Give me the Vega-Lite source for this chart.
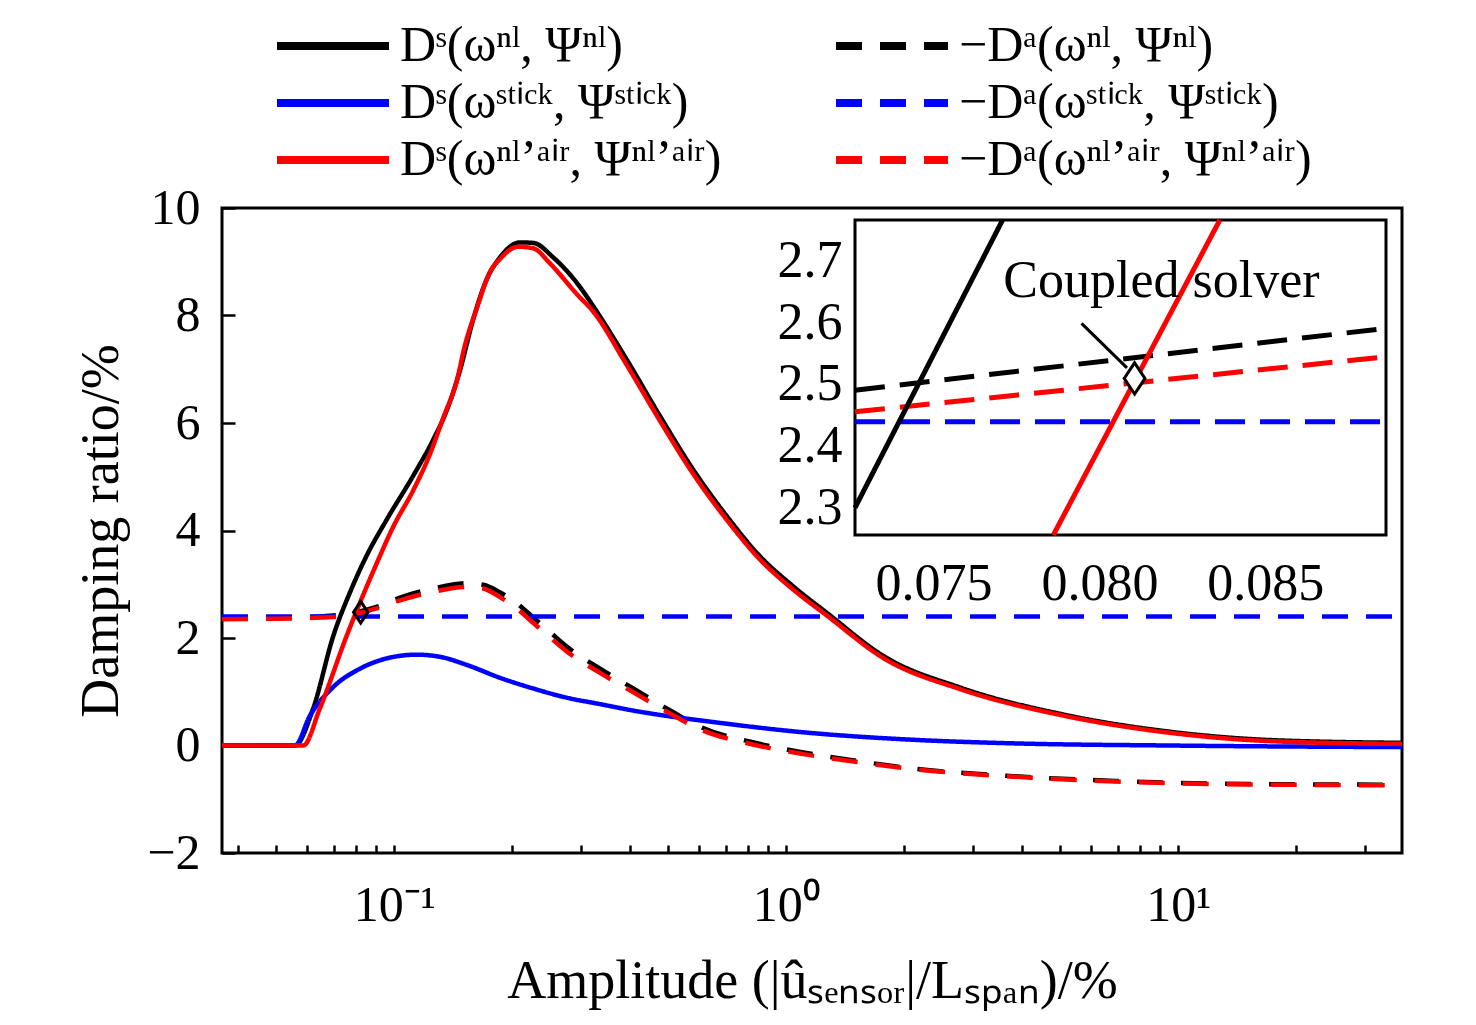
{
  "$schema": "https://vega.github.io/schema/vega-lite/v6.json",
  "width": 1180,
  "height": 645,
  "autosize": {"type": "none"},
  "padding": {"left": 222, "top": 208, "right": 74, "bottom": 172},
  "background": "white",
  "config": {
    "view": {"stroke": "black", "strokeWidth": 3},
    "font": "Liberation Serif",
    "axis": {
      "labelFont": "Liberation Serif",
      "titleFont": "Liberation Serif",
      "labelColor": "black",
      "titleColor": "black",
      "tickColor": "black",
      "tickWidth": 2.5,
      "domain": false,
      "grid": false,
      "labelFlush": false,
      "labelOverlap": false,
      "titleFontWeight": "normal",
      "zindex": 1
    }
  },
  "datasets": {
    "main": [
      {"s": "DS_nl", "x": 0.03635, "y": 0}, {"s": "DS_nl", "x": 0.0558, "y": 0}, {"s": "DS_nl", "x": 0.0621, "y": 0.69},
      {"s": "DS_nl", "x": 0.0699, "y": 2.04}, {"s": "DS_nl", "x": 0.0771, "y": 2.85}, {"s": "DS_nl", "x": 0.085, "y": 3.53},
      {"s": "DS_nl", "x": 0.0956, "y": 4.2}, {"s": "DS_nl", "x": 0.1118, "y": 5.02}, {"s": "DS_nl", "x": 0.1257, "y": 5.69},
      {"s": "DS_nl", "x": 0.136, "y": 6.23}, {"s": "DS_nl", "x": 0.1471, "y": 6.98}, {"s": "DS_nl", "x": 0.159, "y": 7.93},
      {"s": "DS_nl", "x": 0.1721, "y": 8.67}, {"s": "DS_nl", "x": 0.186, "y": 9.08}, {"s": "DS_nl", "x": 0.2093, "y": 9.36},
      {"s": "DS_nl", "x": 0.2263, "y": 9.35}, {"s": "DS_nl", "x": 0.2545, "y": 9.08}, {"s": "DS_nl", "x": 0.2977, "y": 8.53},
      {"s": "DS_nl", "x": 0.322, "y": 8.17}, {"s": "DS_nl", "x": 0.3917, "y": 7.18}, {"s": "DS_nl", "x": 0.4762, "y": 6.13},
      {"s": "DS_nl", "x": 0.5792, "y": 5.13}, {"s": "DS_nl", "x": 0.7047, "y": 4.27}, {"s": "DS_nl", "x": 0.857, "y": 3.52},
      {"s": "DS_nl", "x": 1.042, "y": 2.96}, {"s": "DS_nl", "x": 1.268, "y": 2.47}, {"s": "DS_nl", "x": 1.775, "y": 1.66},
      {"s": "DS_nl", "x": 2.8, "y": 1.07}, {"s": "DS_nl", "x": 5.14, "y": 0.57}, {"s": "DS_nl", "x": 9.42, "y": 0.26},
      {"s": "DS_nl", "x": 17.3, "y": 0.1}, {"s": "DS_nl", "x": 37.22, "y": 0.05},

      {"s": "Da_nl", "x": 0.03635, "y": 2.36}, {"s": "Da_nl", "x": 0.05, "y": 2.37}, {"s": "Da_nl", "x": 0.065, "y": 2.4},
      {"s": "Da_nl", "x": 0.0741, "y": 2.44}, {"s": "Da_nl", "x": 0.0821, "y": 2.5}, {"s": "Da_nl", "x": 0.092, "y": 2.6},
      {"s": "Da_nl", "x": 0.1034, "y": 2.75}, {"s": "Da_nl", "x": 0.1257, "y": 2.92}, {"s": "Da_nl", "x": 0.153, "y": 3.02},
      {"s": "Da_nl", "x": 0.1687, "y": 2.99}, {"s": "Da_nl", "x": 0.186, "y": 2.85}, {"s": "Da_nl", "x": 0.205, "y": 2.65},
      {"s": "Da_nl", "x": 0.2263, "y": 2.38}, {"s": "Da_nl", "x": 0.2496, "y": 2.11}, {"s": "Da_nl", "x": 0.2754, "y": 1.84},
      {"s": "Da_nl", "x": 0.3349, "y": 1.43}, {"s": "Da_nl", "x": 0.4072, "y": 1.06}, {"s": "Da_nl", "x": 0.4954, "y": 0.69},
      {"s": "Da_nl", "x": 0.6024, "y": 0.35}, {"s": "Da_nl", "x": 0.832, "y": 0.05}, {"s": "Da_nl", "x": 1.127, "y": -0.14},
      {"s": "Da_nl", "x": 1.525, "y": -0.29}, {"s": "Da_nl", "x": 2.06, "y": -0.42}, {"s": "Da_nl", "x": 3.79, "y": -0.57},
      {"s": "Da_nl", "x": 6.95, "y": -0.66}, {"s": "Da_nl", "x": 12.7, "y": -0.71}, {"s": "Da_nl", "x": 37.22, "y": -0.73},

      {"s": "DS_stick", "x": 0.03635, "y": 0}, {"s": "DS_stick", "x": 0.0558, "y": 0}, {"s": "DS_stick", "x": 0.0609, "y": 0.55},
      {"s": "DS_stick", "x": 0.0699, "y": 1.09}, {"s": "DS_stick", "x": 0.0818, "y": 1.43}, {"s": "DS_stick", "x": 0.0956, "y": 1.62},
      {"s": "DS_stick", "x": 0.1141, "y": 1.69}, {"s": "DS_stick", "x": 0.1308, "y": 1.65}, {"s": "DS_stick", "x": 0.153, "y": 1.5},
      {"s": "DS_stick", "x": 0.186, "y": 1.26}, {"s": "DS_stick", "x": 0.2263, "y": 1.06}, {"s": "DS_stick", "x": 0.2754, "y": 0.89},
      {"s": "DS_stick", "x": 0.3349, "y": 0.77}, {"s": "DS_stick", "x": 0.4072, "y": 0.65}, {"s": "DS_stick", "x": 0.4954, "y": 0.55},
      {"s": "DS_stick", "x": 0.614, "y": 0.46}, {"s": "DS_stick", "x": 1.127, "y": 0.24}, {"s": "DS_stick", "x": 2.06, "y": 0.11},
      {"s": "DS_stick", "x": 3.79, "y": 0.04}, {"s": "DS_stick", "x": 9.42, "y": 0.0}, {"s": "DS_stick", "x": 37.22, "y": -0.03},

      {"s": "Da_stick", "x": 0.03635, "y": 2.4}, {"s": "Da_stick", "x": 37.22, "y": 2.4},

      {"s": "DS_air", "x": 0.03635, "y": 0}, {"s": "DS_air", "x": 0.0586, "y": 0}, {"s": "DS_air", "x": 0.0646, "y": 0.69},
      {"s": "DS_air", "x": 0.0756, "y": 2.04}, {"s": "DS_air", "x": 0.0902, "y": 3.39}, {"s": "DS_air", "x": 0.0994, "y": 4.07},
      {"s": "DS_air", "x": 0.1118, "y": 4.75}, {"s": "DS_air", "x": 0.1233, "y": 5.42}, {"s": "DS_air", "x": 0.1334, "y": 6.1},
      {"s": "DS_air", "x": 0.1443, "y": 6.78}, {"s": "DS_air", "x": 0.1515, "y": 7.45}, {"s": "DS_air", "x": 0.1623, "y": 8.13},
      {"s": "DS_air", "x": 0.1754, "y": 8.81}, {"s": "DS_air", "x": 0.186, "y": 9.05}, {"s": "DS_air", "x": 0.2072, "y": 9.28},
      {"s": "DS_air", "x": 0.2263, "y": 9.25}, {"s": "DS_air", "x": 0.2496, "y": 8.97}, {"s": "DS_air", "x": 0.292, "y": 8.4},
      {"s": "DS_air", "x": 0.322, "y": 8.07}, {"s": "DS_air", "x": 0.3917, "y": 7.08}, {"s": "DS_air", "x": 0.4762, "y": 6.04},
      {"s": "DS_air", "x": 0.5792, "y": 5.05}, {"s": "DS_air", "x": 0.7047, "y": 4.2}, {"s": "DS_air", "x": 0.857, "y": 3.46},
      {"s": "DS_air", "x": 1.042, "y": 2.9}, {"s": "DS_air", "x": 1.268, "y": 2.42}, {"s": "DS_air", "x": 1.775, "y": 1.62},
      {"s": "DS_air", "x": 2.8, "y": 1.04}, {"s": "DS_air", "x": 5.14, "y": 0.55}, {"s": "DS_air", "x": 9.42, "y": 0.24},
      {"s": "DS_air", "x": 17.3, "y": 0.08}, {"s": "DS_air", "x": 37.22, "y": 0.03},

      {"s": "Da_air", "x": 0.03635, "y": 2.35}, {"s": "Da_air", "x": 0.05, "y": 2.36}, {"s": "Da_air", "x": 0.065, "y": 2.38},
      {"s": "Da_air", "x": 0.0741, "y": 2.41}, {"s": "Da_air", "x": 0.0821, "y": 2.47}, {"s": "Da_air", "x": 0.092, "y": 2.57},
      {"s": "Da_air", "x": 0.1034, "y": 2.7}, {"s": "Da_air", "x": 0.1257, "y": 2.86}, {"s": "Da_air", "x": 0.153, "y": 2.95},
      {"s": "Da_air", "x": 0.1687, "y": 2.92}, {"s": "Da_air", "x": 0.186, "y": 2.76}, {"s": "Da_air", "x": 0.205, "y": 2.55},
      {"s": "Da_air", "x": 0.2263, "y": 2.28}, {"s": "Da_air", "x": 0.2496, "y": 2.01}, {"s": "Da_air", "x": 0.2754, "y": 1.75},
      {"s": "Da_air", "x": 0.3349, "y": 1.35}, {"s": "Da_air", "x": 0.4072, "y": 0.99}, {"s": "Da_air", "x": 0.4954, "y": 0.63},
      {"s": "Da_air", "x": 0.6024, "y": 0.3}, {"s": "Da_air", "x": 0.832, "y": 0.01}, {"s": "Da_air", "x": 1.127, "y": -0.17},
      {"s": "Da_air", "x": 1.525, "y": -0.31}, {"s": "Da_air", "x": 2.06, "y": -0.43}, {"s": "Da_air", "x": 3.79, "y": -0.58},
      {"s": "Da_air", "x": 6.95, "y": -0.67}, {"s": "Da_air", "x": 12.7, "y": -0.72}, {"s": "Da_air", "x": 37.22, "y": -0.74}
    ],
    "mainMarker": [{"x": 0.0821, "y": 2.48}],
    "inset": [
      {"s": "Da_nl", "x": 0.07263, "y": 2.49}, {"s": "Da_nl", "x": 0.08864, "y": 2.59},
      {"s": "Da_stick", "x": 0.07263, "y": 2.439}, {"s": "Da_stick", "x": 0.08864, "y": 2.439},
      {"s": "Da_air", "x": 0.07263, "y": 2.455}, {"s": "Da_air", "x": 0.08864, "y": 2.544},
      {"s": "DS_nl", "x": 0.07263, "y": 2.3}, {"s": "DS_nl", "x": 0.07708, "y": 2.765},
      {"s": "DS_air", "x": 0.07861, "y": 2.256}, {"s": "DS_air", "x": 0.08363, "y": 2.765}
    ],
    "arrow": [{"x": 0.07946, "y": 2.598, "x2": 0.08083, "y2": 2.526}],
    "note": [{"x": 0.08187, "y": 2.641, "text": "Coupled solver"}],
    "insetMarker": [{"x": 0.08106, "y": 2.509}]
  },
  "layer": [
    {
      "layer": [
        {
          "data": {"name": "main"},
          "mark": {"type": "line", "interpolate": "monotone", "strokeWidth": 4.5},
          "encoding": {
            "x": {
              "field": "x", "type": "quantitative",
              "scale": {"type": "log", "domain": [0.03635, 37.22], "nice": false},
              "axis": {
                "values": [0.04, 0.05, 0.06, 0.07, 0.08, 0.09, 0.1, 0.2, 0.3, 0.4, 0.5, 0.6, 0.7, 0.8, 0.9, 1, 2, 3, 4, 5, 6, 7, 8, 9, 10, 20, 30],
                "labelExpr": "datum.value == 0.1 ? '10⁻¹' : datum.value == 1 ? '10⁰' : datum.value == 10 ? '10¹' : ''",
                "tickSize": -8,
                "encode": {"ticks": {"update": {"y2": {"signal": "abs(log(datum.value) / LN10 - round(log(datum.value) / LN10)) < 0.001 ? -15 : -8"}}}},
                "labelFontSize": 50,
                "labelPadding": 35,
                "title": "Amplitude (|ûₛₑₙₛₒᵣ|/Lₛₚₐₙ)/%",
                "titleFontSize": 54,
                "titlePadding": 24
              }
            },
            "y": {
              "field": "y", "type": "quantitative",
              "scale": {"domain": [-2, 10], "nice": false, "zero": false},
              "axis": {
                "values": [-2, 0, 2, 4, 6, 8, 10],
                "format": "d",
                "tickSize": -13,
                "labelFontSize": 50,
                "labelPadding": 35,
                "title": "Damping ratio/%",
                "titleFontSize": 54,
                "titlePadding": 18
              }
            },
            "color": {
              "field": "s", "type": "nominal",
              "scale": {
                "domain": ["DS_nl", "DS_stick", "DS_air", "Da_nl", "Da_stick", "Da_air"],
                "range": ["#000000", "#0000ff", "#ff0000", "#000000", "#0000ff", "#ff0000"]
              },
              "legend": {
                "orient": "none", "legendX": 86, "legendY": -187, "columns": 2, "columnPadding": 98, "rowPadding": 7,
                "symbolType": "M-4,0H4", "symbolSize": 784, "symbolStrokeWidth": 8, "padding": 0, "title": null,
                "labelFont": "Liberation Serif", "labelFontSize": 50, "labelFontStyle": "normal", "labelOffset": 42, "labelLimit": 700, "labelColor": "black",
                "labelExpr": "datum.label == 'DS_nl' ? 'Dˢ(ωⁿˡ, Ψⁿˡ)' : datum.label == 'Da_nl' ? '−Dᵃ(ωⁿˡ, Ψⁿˡ)' : datum.label == 'DS_stick' ? 'Dˢ(ωˢᵗⁱᶜᵏ, Ψˢᵗⁱᶜᵏ)' : datum.label == 'Da_stick' ? '−Dᵃ(ωˢᵗⁱᶜᵏ, Ψˢᵗⁱᶜᵏ)' : datum.label == 'DS_air' ? 'Dˢ(ωⁿˡʼᵃⁱʳ, Ψⁿˡʼᵃⁱʳ)' : '−Dᵃ(ωⁿˡʼᵃⁱʳ, Ψⁿˡʼᵃⁱʳ)'"
              }
            },
            "strokeDash": {
              "field": "s", "type": "nominal",
              "scale": {
                "domain": ["DS_nl", "DS_stick", "DS_air", "Da_nl", "Da_stick", "Da_air"],
                "range": [[1, 0], [1, 0], [1, 0], [26, 18], [26, 18], [26, 18]]
              },
              "legend": {
                "orient": "none", "legendX": 86, "legendY": -187, "columns": 2, "columnPadding": 98, "rowPadding": 7,
                "symbolType": "M-4,0H4", "symbolSize": 784, "symbolStrokeWidth": 8, "padding": 0, "title": null,
                "labelFont": "Liberation Serif", "labelFontSize": 50, "labelFontStyle": "normal", "labelOffset": 42, "labelLimit": 700, "labelColor": "black",
                "labelExpr": "datum.label == 'DS_nl' ? 'Dˢ(ωⁿˡ, Ψⁿˡ)' : datum.label == 'Da_nl' ? '−Dᵃ(ωⁿˡ, Ψⁿˡ)' : datum.label == 'DS_stick' ? 'Dˢ(ωˢᵗⁱᶜᵏ, Ψˢᵗⁱᶜᵏ)' : datum.label == 'Da_stick' ? '−Dᵃ(ωˢᵗⁱᶜᵏ, Ψˢᵗⁱᶜᵏ)' : datum.label == 'DS_air' ? 'Dˢ(ωⁿˡʼᵃⁱʳ, Ψⁿˡʼᵃⁱʳ)' : '−Dᵃ(ωⁿˡʼᵃⁱʳ, Ψⁿˡʼᵃⁱʳ)'"
              }
            }
          }
        },
        {
          "data": {"name": "mainMarker"},
          "mark": {"type": "point", "shape": "M0,-1.2L0.8,0L0,1.2L-0.8,0Z", "size": 324, "filled": false, "stroke": "black", "strokeWidth": 3, "opacity": 1},
          "encoding": {
            "x": {"field": "x", "type": "quantitative"},
            "y": {"field": "y", "type": "quantitative"}
          }
        }
      ]
    },
    {
      "layer": [
        {
          "data": {"values": [{}]},
          "mark": {"type": "rect", "fill": "white", "stroke": "black", "strokeWidth": 3},
          "encoding": {
            "x": {
              "datum": 0.07263, "type": "quantitative",
              "scale": {"domain": [0.07263, 0.08864], "range": [633, 1164], "nice": false, "zero": false},
              "axis": {
                "orient": "bottom", "offset": -318, "values": [0.075, 0.08, 0.085], "format": ".3f",
                "tickSize": -12, "labelFontSize": 52, "labelPadding": 35, "title": null
              }
            },
            "x2": {"datum": 0.08864},
            "y": {
              "datum": 2.256, "type": "quantitative",
              "scale": {"domain": [2.256, 2.765], "range": [327, 12], "nice": false, "zero": false},
              "axis": {
                "orient": "left", "offset": -633, "values": [2.3, 2.4, 2.5, 2.6, 2.7], "format": ".1f",
                "tickSize": -12, "labelFontSize": 52, "labelPadding": 25, "title": null
              }
            },
            "y2": {"datum": 2.765}
          }
        },
        {
          "data": {"name": "inset"},
          "mark": {"type": "line"},
          "encoding": {
            "x": {"field": "x", "type": "quantitative"},
            "y": {"field": "y", "type": "quantitative"},
            "color": {
              "field": "s", "type": "nominal", "legend": null,
              "scale": {"domain": ["Da_nl", "Da_stick", "Da_air", "DS_nl", "DS_air"], "range": ["#000000", "#0000ff", "#ff0000", "#000000", "#ff0000"]}
            },
            "strokeDash": {
              "field": "s", "type": "nominal", "legend": null,
              "scale": {"domain": ["Da_nl", "Da_stick", "Da_air", "DS_nl", "DS_air"], "range": [[30, 15], [30, 15], [30, 15], [1, 0], [1, 0]]}
            },
            "strokeWidth": {
              "field": "s", "type": "nominal", "legend": null,
              "scale": {"domain": ["Da_nl", "Da_stick", "Da_air", "DS_nl", "DS_air"], "range": [5, 5, 5, 3, 3]}
            }
          }
        },
        {
          "data": {"name": "arrow"},
          "mark": {"type": "rule", "color": "black", "strokeWidth": 3},
          "encoding": {
            "x": {"field": "x", "type": "quantitative"},
            "y": {"field": "y", "type": "quantitative"},
            "x2": {"field": "x2"},
            "y2": {"field": "y2"}
          }
        },
        {
          "data": {"name": "note"},
          "mark": {"type": "text", "font": "Liberation Serif", "fontSize": 52, "align": "center", "baseline": "alphabetic", "color": "black"},
          "encoding": {
            "x": {"field": "x", "type": "quantitative"},
            "y": {"field": "y", "type": "quantitative"},
            "text": {"field": "text"}
          }
        },
        {
          "data": {"name": "insetMarker"},
          "mark": {"type": "point", "shape": "M0,-1.2L0.8,0L0,1.2L-0.8,0Z", "size": 676, "filled": true, "fill": "white", "stroke": "black", "strokeWidth": 3, "opacity": 1},
          "encoding": {
            "x": {"field": "x", "type": "quantitative"},
            "y": {"field": "y", "type": "quantitative"}
          }
        }
      ]
    }
  ],
  "resolve": {
    "scale": {"x": "independent", "y": "independent", "color": "independent", "strokeDash": "independent", "strokeWidth": "independent"}
  }
}
